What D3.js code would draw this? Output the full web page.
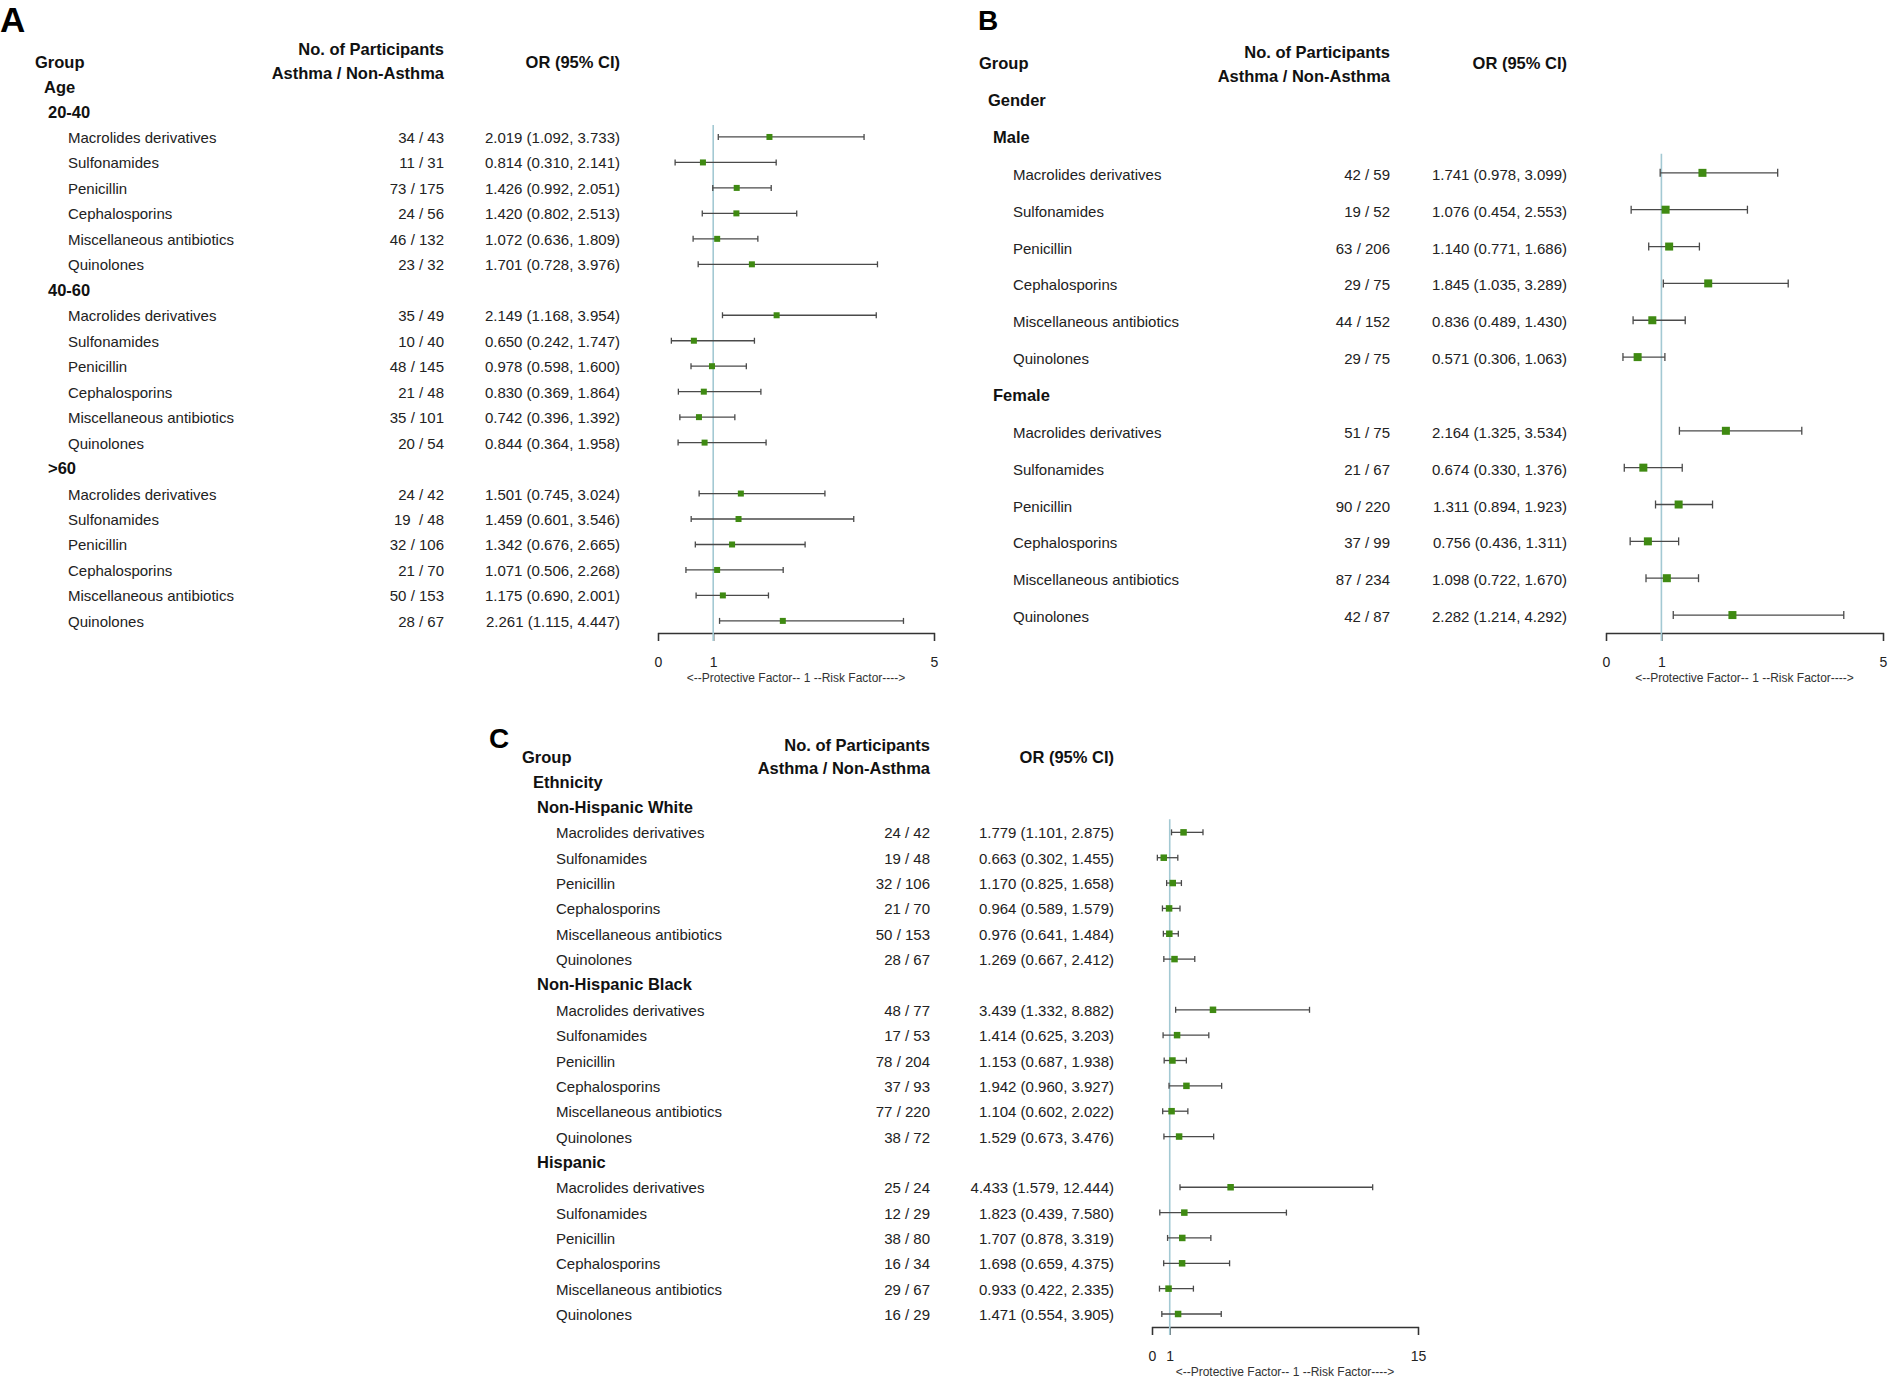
<!DOCTYPE html>
<html>
<head>
<meta charset="utf-8">
<script src="https://cdn.jsdelivr.net/npm/d3@7"></script>
<style>
  body { margin: 0; background: #fff; }
  svg { display: block; font-family: "Liberation Sans", Arial, sans-serif; }
</style>
</head>
<body>
<script>
const fullWidth = 1892
const fullHeight = 1379

// ---------------Data---------------

const drugs = ["Macrolides derivatives", "Sulfonamides", "Penicillin", "Cephalosporins", "Miscellaneous antibiotics", "Quinolones"]

// A: age
const ageGroups = ["20-40", "40-60", ">60"]
const ageCounts = ["34 / 43", "11 / 31", "73 / 175", "24 / 56", "46 / 132", "23 / 32",
  "35 / 49", "10 / 40", "48 / 145", "21 / 48", "35 / 101", "20 / 54",
  "24 / 42", "19  / 48", "32 / 106", "21 / 70", "50 / 153", "28 / 67"]
const ageOR = [2.019, 0.814, 1.426, 1.420, 1.072, 1.701, 2.149, 0.650, 0.978, 0.830, 0.742, 0.844, 1.501, 1.459, 1.342, 1.071, 1.175, 2.261]
const ageLo = [1.092, 0.310, 0.992, 0.802, 0.636, 0.728, 1.168, 0.242, 0.598, 0.369, 0.396, 0.364, 0.745, 0.601, 0.676, 0.506, 0.690, 1.115]
const ageHi = [3.733, 2.141, 2.051, 2.513, 1.809, 3.976, 3.954, 1.747, 1.600, 1.864, 1.392, 1.958, 3.024, 3.546, 2.665, 2.268, 2.001, 4.447]

// B: gender
const genderGroups = ["Male", "Female"]
const genderCounts = ["42 / 59", "19 / 52", "63 / 206", "29 / 75", "44 / 152", "29 / 75",
  "51 / 75", "21 / 67", "90 / 220", "37 / 99", "87 / 234", "42 / 87"]
const genderOR = [1.741, 1.076, 1.140, 1.845, 0.836, 0.571, 2.164, 0.674, 1.311, 0.756, 1.098, 2.282]
const genderLo = [0.978, 0.454, 0.771, 1.035, 0.489, 0.306, 1.325, 0.330, 0.894, 0.436, 0.722, 1.214]
const genderHi = [3.099, 2.553, 1.686, 3.289, 1.430, 1.063, 3.534, 1.376, 1.923, 1.311, 1.670, 4.292]

// C: ethnicity
const ethGroups = ["Non-Hispanic White", "Non-Hispanic Black", "Hispanic"]
const ethCounts = ["24 / 42", "19 / 48", "32 / 106", "21 / 70", "50 / 153", "28 / 67",
  "48 / 77", "17 / 53", "78 / 204", "37 / 93", "77 / 220", "38 / 72",
  "25 / 24", "12 / 29", "38 / 80", "16 / 34", "29 / 67", "16 / 29"]
const ethOR = [1.779, 0.663, 1.170, 0.964, 0.976, 1.269, 3.439, 1.414, 1.153, 1.942, 1.104, 1.529, 4.433, 1.823, 1.707, 1.698, 0.933, 1.471]
const ethLo = [1.101, 0.302, 0.825, 0.589, 0.641, 0.667, 1.332, 0.625, 0.687, 0.960, 0.602, 0.673, 1.579, 0.439, 0.878, 0.659, 0.422, 0.554]
const ethHi = [2.875, 1.455, 1.658, 1.579, 1.484, 2.412, 8.882, 3.203, 1.938, 3.927, 2.022, 3.476, 12.444, 7.580, 3.319, 4.375, 2.335, 3.905]

const axisNote = "<--Protective Factor-- 1 --Risk Factor---->"

const markColor = "#3f8a12"
const ciColor = "#4a4a4a"
const refColor = "#a3c9d3"

// ---------------Layout per panel---------------

const panels = [
  {
    letter: "A", letterX: 0, letterY: 32, letterSize: 35,
    category: "Age", groups: ageGroups, counts: ageCounts, or: ageOR, lo: ageLo, hi: ageHi,
    groupX: 35, groupY: 68, catX: 44, catY: 93, subX: 48, itemX: 68,
    row0: 117.5, step: 25.47,
    countX: 444, orX: 620, headY1: 55, headY2: 79, orHeadY: 68,
    x0: 658, x1: 934, xMax: 5, ticks: [0, 1, 5], axisY: 633,
    markSize: 6, capH: 6, markOff: 6, refTop: 12
  },
  {
    letter: "B", letterX: 978, letterY: 30, letterSize: 28,
    category: "Gender", groups: genderGroups, counts: genderCounts, or: genderOR, lo: genderLo, hi: genderHi,
    groupX: 979, groupY: 69, catX: 988, catY: 106, subX: 993, itemX: 1013,
    row0: 143, step: 36.85,
    countX: 1390, orX: 1567, headY1: 58, headY2: 82, orHeadY: 69,
    x0: 1606, x1: 1883, xMax: 5, ticks: [0, 1, 5], axisY: 633,
    markSize: 8, capH: 8, markOff: 7, refTop: 19
  },
  {
    letter: "C", letterX: 489, letterY: 748, letterSize: 28,
    category: "Ethnicity", groups: ethGroups, counts: ethCounts, or: ethOR, lo: ethLo, hi: ethHi,
    groupX: 522, groupY: 763, catX: 533, catY: 788, subX: 537, itemX: 556,
    row0: 813, step: 25.35,
    countX: 930, orX: 1114, headY1: 751, headY2: 774, orHeadY: 763,
    x0: 1152, x1: 1418, xMax: 15, ticks: [0, 1, 15], axisY: 1327,
    markSize: 6.5, capH: 6, markOff: 6, refTop: 13
  }
]

const itemSize = 15
const headSize = 16.5

const svg = d3.select("body")
  .append("svg")
  .attr("width", fullWidth)
  .attr("height", fullHeight)

svg.append("rect")
  .attr("width", fullWidth)
  .attr("height", fullHeight)
  .attr("fill", "#fff")

function label(g, x, y, str, size, bold, anchor) {
  return g.append("text")
    .attr("x", x)
    .attr("y", y)
    .attr("font-size", size)
    .attr("font-weight", bold ? "bold" : "normal")
    .attr("text-anchor", anchor || "start")
    .attr("fill", bold ? "#111" : "#222")
    .style("white-space", "pre")
    .text(str)
}

const fmt = d3.format(".3f")

function drawPanel(p) {
  const g = svg.append("g")

  // ---------------Headers---------------
  label(g, p.letterX, p.letterY, p.letter, p.letterSize, true).attr("fill", "#000")
  label(g, p.groupX, p.groupY, "Group", headSize, true)
  label(g, p.catX, p.catY, p.category, headSize, true)
  label(g, p.countX, p.headY1, "No. of Participants", headSize, true, "end")
  label(g, p.countX, p.headY2, "Asthma / Non-Asthma", headSize, true, "end")
  label(g, p.orX, p.orHeadY, "OR (95% CI)", headSize, true, "end")

  const nRows = p.groups.length * (drugs.length + 1)
  const y = d3.scaleLinear()
    .domain([0, nRows - 1])
    .range([p.row0, p.row0 + (nRows - 1) * p.step])

  const x = d3.scaleLinear()
    .domain([0, p.xMax])
    .range([p.x0, p.x1])

  // rows: subgroup header then one row per drug
  const rows = []
  p.groups.forEach((grp, gi) => {
    label(g, p.subX, y(gi * (drugs.length + 1)), grp, headSize, true)
    drugs.forEach((drug, di) => {
      const i = gi * drugs.length + di
      rows.push({
        drug,
        count: p.counts[i],
        or: p.or[i],
        lo: p.lo[i],
        hi: p.hi[i],
        row: gi * (drugs.length + 1) + di + 1
      })
    })
  })

  rows.forEach(d => {
    label(g, p.itemX, y(d.row), d.drug, itemSize, false)
    label(g, p.countX, y(d.row), d.count, itemSize, false, "end")
    label(g, p.orX, y(d.row), `${fmt(d.or)} (${fmt(d.lo)}, ${fmt(d.hi)})`, itemSize, false, "end")
  })

  // ---------------Axis---------------
  const axis = g.append("g")
    .attr("transform", `translate(0,${p.axisY})`)
    .call(d3.axisBottom(x).tickValues(p.ticks).tickSize(8).tickPadding(16).tickFormat(d3.format("d")))
  axis.select(".domain").attr("stroke", "#333").attr("stroke-width", 1.3)
  axis.selectAll(".tick line").attr("stroke", "#333").attr("stroke-width", 1.3)
  axis.selectAll(".tick text")
    .attr("font-size", 14)
    .attr("fill", "#222")
    .attr("font-family", "Liberation Sans, Arial, sans-serif")

  g.append("text")
    .attr("x", (p.x0 + p.x1) / 2)
    .attr("y", p.axisY + 49)
    .attr("text-anchor", "middle")
    .attr("font-size", 12)
    .attr("fill", "#333")
    .text(axisNote)

  // ---------------Reference line at OR = 1---------------
  const firstY = y(rows[0].row) - p.markOff
  g.append("line")
    .attr("x1", x(1)).attr("x2", x(1))
    .attr("y1", firstY - p.refTop)
    .attr("y2", p.axisY + 8)
    .attr("stroke", refColor)
    .attr("stroke-width", 1.6)

  // ---------------CI whiskers---------------
  const ci = g.selectAll(".ci")
    .data(rows)
    .enter().append("g")
    .attr("class", "ci")
    .attr("transform", d => `translate(0,${y(d.row) - p.markOff})`)

  ci.append("line")
    .attr("x1", d => x(d.lo))
    .attr("x2", d => x(d.hi))
    .attr("stroke", ciColor)
    .attr("stroke-width", 1.3)

  ci.selectAll(".cap")
    .data(d => [d.lo, d.hi])
    .enter().append("line")
    .attr("class", "cap")
    .attr("x1", v => x(v))
    .attr("x2", v => x(v))
    .attr("y1", -p.capH / 2)
    .attr("y2", p.capH / 2)
    .attr("stroke", ciColor)
    .attr("stroke-width", 1.3)

  ci.append("rect")
    .attr("x", d => x(d.or) - p.markSize / 2)
    .attr("y", -p.markSize / 2)
    .attr("width", p.markSize)
    .attr("height", p.markSize)
    .attr("fill", markColor)
}

panels.forEach(drawPanel)
</script>
</body>
</html>
